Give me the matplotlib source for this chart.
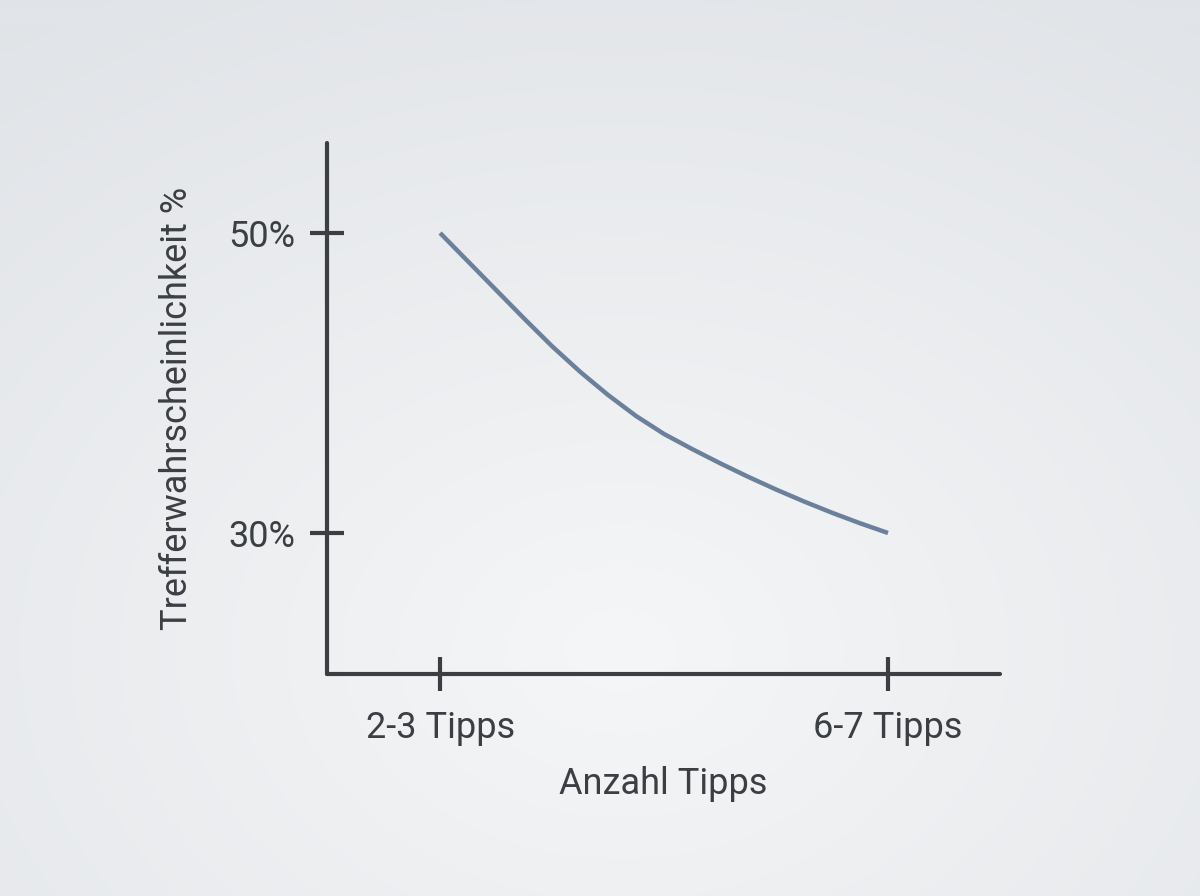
import numpy as np
import matplotlib
matplotlib.use("Agg")
import matplotlib.pyplot as plt

# Data
x_pos = [2.5, 2.75, 3.0, 3.25, 3.5, 3.75, 4.0, 4.25, 4.5, 4.75, 5.0,
         5.25, 5.5, 5.75, 6.0, 6.25, 6.5]
hit_prob = [50.0, 48.1, 46.2, 44.3, 42.45, 40.75, 39.2, 37.8, 36.6, 35.6, 34.65,
            33.75, 32.9, 32.1, 31.35, 30.65, 30.0]
x_ticks = [2.5, 6.5]
x_tick_labels = ["2-3 Tipps", "6-7 Tipps"]
y_ticks = [30, 50]
y_tick_labels = ["30%", "50%"]

plt.rcParams['font.family'] = ['Roboto', 'DejaVu Sans']
dark = "#3b3f44"

fig = plt.figure(figsize=(12, 8.96), dpi=100)

# background gradient (darker at top, lighter toward the bottom/centre)
bg = fig.add_axes([0, 0, 1, 1], zorder=-10)
H, W = 896, 1200
yy, xx = np.mgrid[0:H, 0:W]
r = np.sqrt(((xx - 620) / 1000.0) ** 2 + ((yy - 650) / 750.0) ** 2)
r = np.clip(r, 0, 1)
c_in = np.array([0xf5, 0xf6, 0xf7]) / 255.0
c_out = np.array([0xe1, 0xe4, 0xe8]) / 255.0
img = c_in[None, None, :] * (1 - r[..., None]) + c_out[None, None, :] * r[..., None]
bg.imshow(img, aspect='auto', extent=[0, 1, 0, 1])
bg.axis('off')

ax = fig.add_axes([0.2725, 0.2478, 0.5608, 0.5926])
ax.patch.set_alpha(0)
ax.plot(x_pos, hit_prob, color="#6b809b", lw=3.2, solid_capstyle='butt',
        solid_joinstyle='round')
ax.set_xlim(1.49, 7.5)
ax.set_ylim(20.6, 56)

for s in ['top', 'right']:
    ax.spines[s].set_visible(False)
for s in ['left', 'bottom']:
    ax.spines[s].set_color(dark)
    ax.spines[s].set_linewidth(3)
    ax.spines[s].set_capstyle('round')

ax.set_xticks(x_ticks)
ax.set_xticklabels(x_tick_labels)
ax.set_yticks(y_ticks)
ax.set_yticklabels(y_tick_labels)
ax.tick_params(axis='both', direction='inout', width=3, color=dark,
               labelcolor=dark, labelsize=26)
ax.tick_params(axis='x', length=24, pad=14)
ax.tick_params(axis='y', length=25, pad=10)

ax.set_xlabel("Anzahl Tipps", fontsize=26, color=dark, labelpad=14)
ax.set_ylabel("Trefferwahrscheinlichkeit %", fontsize=26, color=dark, labelpad=24)

fig.savefig("out.png", dpi=100)
